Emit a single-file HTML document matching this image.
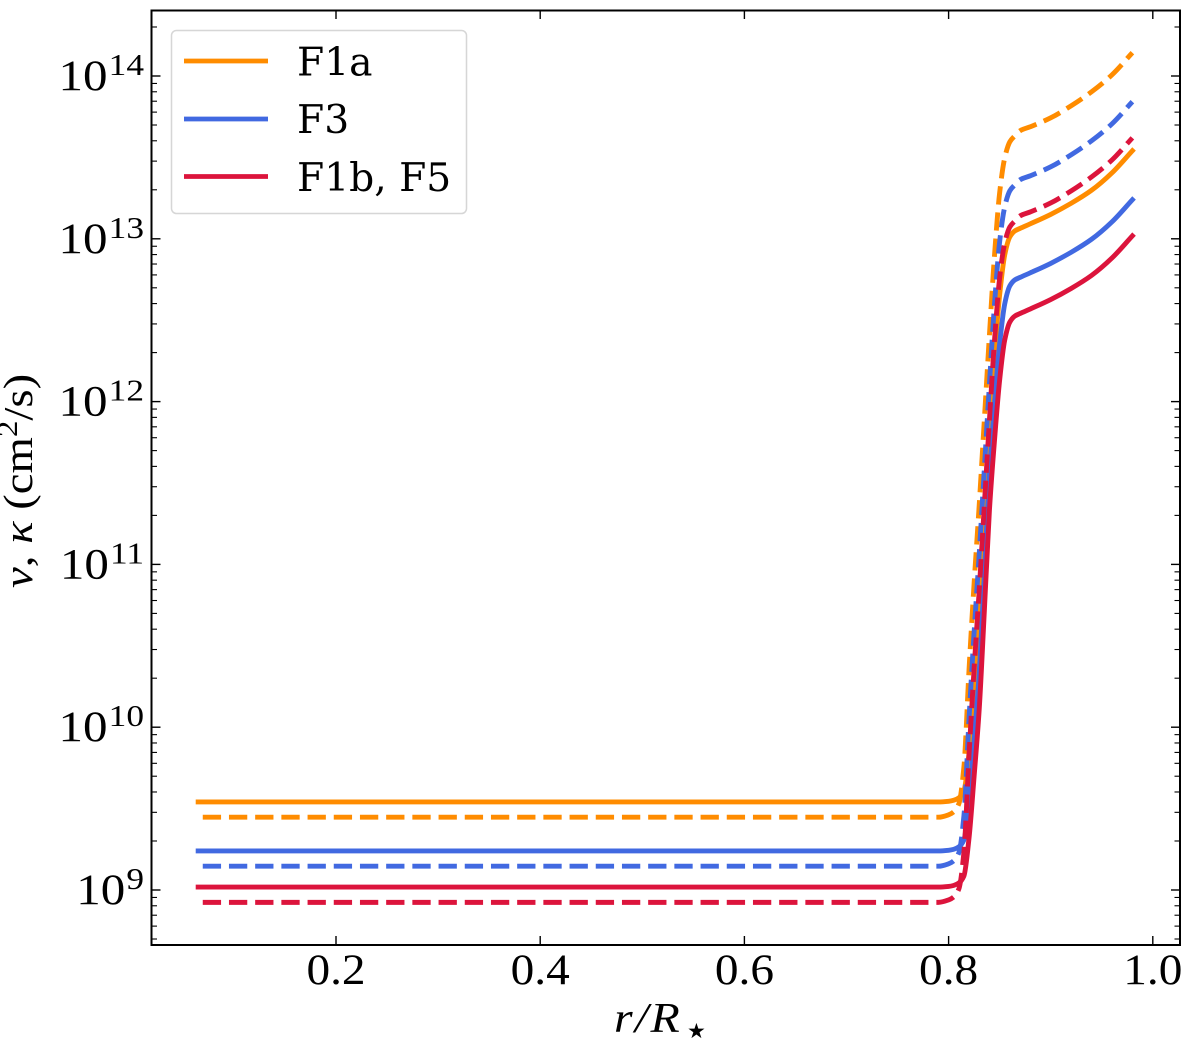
<!DOCTYPE html>
<html lang="en">
<head>
<meta charset="utf-8">
<title>Viscosity and diffusivity profiles</title>
<style>
html,body{margin:0;padding:0;background:#fff}
svg{display:block}
.tick-text{font-family:"Liberation Serif","DejaVu Serif",serif;fill:#000}
.legend-text{font-family:"DejaVu Serif","Liberation Serif",serif;font-size:39.2px;fill:#000}
.axis-title{font-family:"Liberation Serif","DejaVu Serif",serif;fill:#000}
</style>
</head>
<body>
<svg id="chart" xmlns="http://www.w3.org/2000/svg" width="1200" height="1041" viewBox="0 0 1200 1041">
  <rect x="0" y="0" width="1200" height="1041" fill="#fff"/>
  <g id="series-layer"></g>
  <g id="tick-layer"></g>
  <rect x="151.5" y="10.5" width="1028.5" height="934.5" fill="none" stroke="#000" stroke-width="2"/>
  <g>
    <rect x="171.5" y="30.5" width="295" height="183" rx="5" ry="5" fill="#fff" fill-opacity="0.8" stroke="#d6d6d6" stroke-width="1.5"/>
    <line x1="184" x2="268" y1="61" y2="61" stroke="#ff8c00" stroke-width="4.8"/>
    <text class="legend-text" x="297" y="75.5">F1a</text>
    <line x1="184" x2="268" y1="119" y2="119" stroke="#4169e1" stroke-width="4.8"/>
    <text class="legend-text" x="297" y="133">F3</text>
    <line x1="184" x2="268" y1="176.5" y2="176.5" stroke="#dc143c" stroke-width="4.8"/>
    <text class="legend-text" x="297" y="191">F1b, F5</text>
  </g>
  <text class="axis-title" transform="translate(614,1032) scale(1.14,1)" font-size="42" font-style="italic" letter-spacing="2">r/R</text>
  <text x="687" y="1038" font-size="21" font-family="DejaVu Sans, sans-serif" fill="#000">★</text>
  <text class="axis-title" transform="translate(32,588) rotate(-90) scale(1.14,1)" font-size="41"><tspan font-style="italic">ν</tspan>, <tspan font-style="italic">κ</tspan> (cm<tspan font-size="29" dy="-15">2</tspan><tspan dy="15">/s)</tspan></text>
</svg>
<script>
// Chart data. Values are log10 of nu, kappa in cm^2/s.
const radius = [0.065,0.2,0.4,0.6,0.79,0.80,0.805,0.81,0.815,0.82,0.825,0.83,0.835,0.84,0.845,0.85,0.855,0.86,0.865,0.87,0.88,0.90,0.92,0.94,0.96,0.98];
const f1aSolid = [9.541,9.541,9.541,9.541,9.541,9.545,9.551,9.566,9.609,9.842,10.223,10.635,11.237,11.857,12.289,12.656,12.902,13.012,13.049,13.064,13.092,13.150,13.218,13.298,13.405,13.541];
const f3Solid = [9.240,9.240,9.240,9.240,9.240,9.244,9.250,9.265,9.308,9.541,9.922,10.334,10.936,11.556,11.988,12.355,12.601,12.711,12.748,12.763,12.791,12.849,12.917,12.997,13.104,13.240];
const f5Solid = [9.018,9.018,9.018,9.018,9.018,9.022,9.028,9.043,9.086,9.319,9.700,10.112,10.714,11.334,11.766,12.133,12.379,12.489,12.526,12.541,12.569,12.627,12.695,12.775,12.882,13.018];
const f1aDashed = [9.447,9.447,9.447,9.447,9.447,9.462,9.480,9.529,9.756,10.352,10.886,11.366,11.888,12.410,12.902,13.283,13.498,13.596,13.633,13.664,13.688,13.743,13.817,13.903,14.007,14.143];
const f3Dashed = [9.146,9.146,9.146,9.146,9.146,9.161,9.179,9.228,9.455,10.051,10.585,11.065,11.587,12.109,12.601,12.982,13.197,13.295,13.332,13.363,13.387,13.442,13.516,13.602,13.706,13.842];
const f5Dashed = [8.924,8.924,8.924,8.924,8.924,8.939,8.957,9.006,9.233,9.829,10.363,10.843,11.365,11.887,12.379,12.760,12.975,13.073,13.110,13.141,13.165,13.220,13.294,13.380,13.484,13.620];
const xTickValues = [0.2,0.4,0.6,0.8,1.0];
const xTickLabels = ["0.2","0.4","0.6","0.8","1.0"];
const yDecades = [9,10,11,12,13,14];
const yDecadeExponents = ["9","10","11","12","13","14"];
const yMinorDecades = [8,9,10,11,12,13,14];
const yMinorFactors = [2,3,4,5,6,7,8,9];

const SVG_NS = "http://www.w3.org/2000/svg";
const xScale = r => 336 + (r - 0.2) * 1021;
const yScale = logV => 890 - (logV - 9) * 162.8;

function monotonePath(xs, ys) {
  const n = xs.length, d = [], m = [];
  for (let i = 0; i < n - 1; i++) d.push((ys[i + 1] - ys[i]) / (xs[i + 1] - xs[i]));
  m[0] = d[0];
  m[n - 1] = d[n - 2];
  for (let i = 1; i < n - 1; i++) {
    if (d[i - 1] * d[i] <= 0) { m[i] = 0; continue; }
    const h0 = xs[i] - xs[i - 1], h1 = xs[i + 1] - xs[i];
    const w1 = 2 * h1 + h0, w2 = h1 + 2 * h0;
    m[i] = (w1 + w2) / (w1 / d[i - 1] + w2 / d[i]);
  }
  let p = "M" + xs[0].toFixed(2) + " " + ys[0].toFixed(2);
  for (let i = 0; i < n - 1; i++) {
    const h = (xs[i + 1] - xs[i]) / 3;
    p += "C" + (xs[i] + h).toFixed(2) + " " + (ys[i] + m[i] * h).toFixed(2) + " " +
         (xs[i + 1] - h).toFixed(2) + " " + (ys[i + 1] - m[i + 1] * h).toFixed(2) + " " +
         xs[i + 1].toFixed(2) + " " + ys[i + 1].toFixed(2);
  }
  return p;
}

const seriesLayer = document.getElementById("series-layer");
function drawSeries(name, values, color, dashed) {
  const el = document.createElementNS(SVG_NS, "path");
  
  
  el.setAttribute("d", monotonePath(radius.map(xScale), values.map(yScale)));
  el.setAttribute("fill", "none");
  el.setAttribute("stroke", color);
  el.setAttribute("stroke-width", "4.9");
  el.setAttribute("stroke-linejoin", "round");
  if (dashed) {
    el.setAttribute("stroke-dasharray", "18.3 7.9");
    el.setAttribute("stroke-dashoffset", "21.6");
  } else {
    el.setAttribute("stroke-linecap", "square");
  }
  seriesLayer.appendChild(el);
}
drawSeries("f1a-nu-line", f1aSolid, "#ff8c00", false);
drawSeries("f1a-kappa-line", f1aDashed, "#ff8c00", true);
drawSeries("f3-nu-line", f3Solid, "#4169e1", false);
drawSeries("f3-kappa-line", f3Dashed, "#4169e1", true);
drawSeries("f1b-f5-nu-line", f5Solid, "#dc143c", false);
drawSeries("f1b-f5-kappa-line", f5Dashed, "#dc143c", true);

const tickLayer = document.getElementById("tick-layer");
function drawTick(x1, y1, x2, y2, width) {
  const el = document.createElementNS(SVG_NS, "line");
  
  
  el.setAttribute("x1", x1);
  el.setAttribute("y1", y1);
  el.setAttribute("x2", x2);
  el.setAttribute("y2", y2);
  el.setAttribute("stroke", "#000");
  el.setAttribute("stroke-width", width);
  tickLayer.appendChild(el);
}

xTickValues.forEach((v, i) => {
  const x = xScale(v);
  drawTick(x, 945, x, 936, 1.4);
  drawTick(x, 10.5, x, 19, 1.4);
  const t = document.createElementNS(SVG_NS, "text");
  
  
  t.setAttribute("class", "tick-text");
  t.setAttribute("transform", "translate(" + x + ",984) scale(1.1,1)");
  t.setAttribute("text-anchor", "middle");
  t.setAttribute("font-size", "43");
  t.textContent = xTickLabels[i];
  tickLayer.appendChild(t);
});

yDecades.forEach((v, i) => {
  const y = yScale(v);
  drawTick(151.5, y, 160.5, y, 1.4);
  drawTick(1180, y, 1171, y, 1.4);
  const t = document.createElementNS(SVG_NS, "text");
  
  
  t.setAttribute("class", "tick-text");
  t.setAttribute("transform", "translate(144," + (y + 14) + ") scale(1.14,1)");
  t.setAttribute("text-anchor", "end");
  t.setAttribute("font-size", "43");
  const base = document.createElementNS(SVG_NS, "tspan");
  
  
  base.textContent = "10";
  const sup = document.createElementNS(SVG_NS, "tspan");
  
  
  sup.setAttribute("font-size", "31");
  sup.setAttribute("dy", "-15");
  sup.setAttribute("dx", "1");
  sup.textContent = yDecadeExponents[i];
  t.appendChild(base);
  t.appendChild(sup);
  tickLayer.appendChild(t);
});

yMinorDecades.forEach(decade => {
  yMinorFactors.forEach(f => {
    const y = yScale(decade + Math.log10(f));
    if (y < 11 || y > 944) return;
    drawTick(151.5, y, 157, y, 1.1);
    drawTick(1180, y, 1174.5, y, 1.1);
  });
});
</script>
</body>
</html>
